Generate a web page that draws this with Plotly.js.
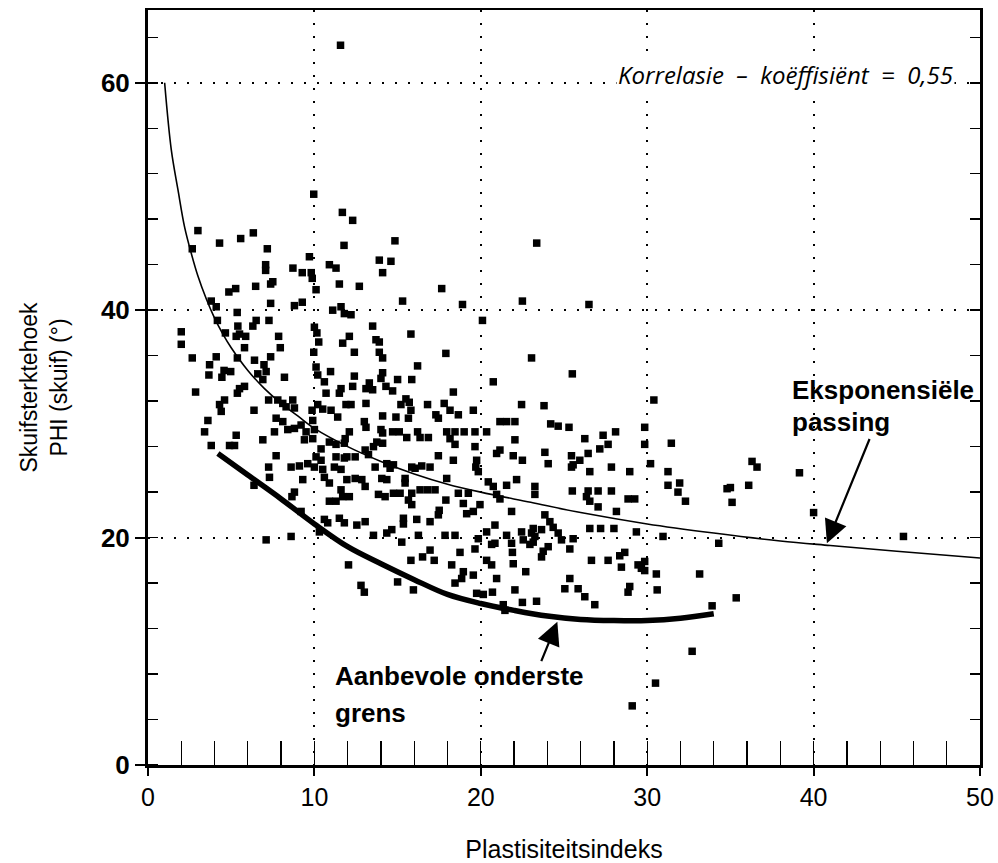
<!DOCTYPE html>
<html>
<head>
<meta charset="utf-8">
<script src="https://cdn.plot.ly/plotly-3.0.1.min.js"></script>
<style>html,body{margin:0;padding:0;background:#fff;}</style>
</head>
<body>
<div id="chart" style="width:998px;height:863px;"></div>
<script>
// Scatter points: Plastisiteitsindeks (x) vs skuifsterktehoek PHI (y)
const ptX = [
9.96,11.68,3.0,6.33,5.57,4.3,7.17,11.78,2.66,9.7,7.07,7.07,8.71,9.27,9.81,9.87,10.9,11.3,7.5,7.37,11.5,10.1,6.47,5.27,4.86,3.8,4.1,7.37,8.8,9.27,5.36,6.5,6.3,4.17,7.27,11.1,11.6,11.8,4.65,5.4,5.5,5.87,5.3,2.0,2.0,7.85,7.95,5.8,10.0,10.15,10.26,9.96,11.7,2.66,4.1,5.37,7.37,
3.7,3.66,4.57,4.97,4.44,6.4,6.97,7.1,6.6,6.9,8.2,10.1,10.2,10.97,2.86,5.5,5.8,5.37,10.6,10.7,11.6,11.5,4.6,4.3,4.4,6.37,7.25,7.8,8.1,8.7,8.3,8.8,9.86,10.2,10.5,11.0,11.4,3.6,3.4,7.7,7.6,8.1,8.4,8.8,9.2,9.5,9.9,10.0,5.3,3.8,4.9,5.2,6.9,9.4,9.9,10.4,10.9,11.3,11.8,7.7,10.1,10.4,11.3,11.8,7.25,7.3,8.6,9.1,9.6,10.0,10.5,10.6,10.9,11.2,11.6,9.3,6.37,8.8,8.65,11.6,11.7,11.3,10.9,9.2,10.6,10.8,11.5,11.8,7.1,8.6,10.3,
12.3,14.84,13.9,14.6,14.1,12.7,17.65,23.36,12.2,15.3,18.9,22.5,20.1,13.5,15.8,12.1,13.7,13.9,12.4,13.9,14.1,17.9,23.05,
16.2,12.4,14.1,14.0,15.0,15.85,13.3,13.1,13.5,12.3,14.3,14.7,20.75,18.35,15.5,15.7,11.9,12.2,13.1,15.2,16.8,17.8,22.45,15.8,18.15,18.65,19.55,17.3,17.45,14.1,14.9,15.65,13.0,13.1,21.15,21.55,22.05,14.0,14.1,14.7,15.1,16.2,16.35,17.95,18.45,19.0,19.65,20.35,12.1,11.85,15.55,16.85,18.15,18.45,22.05,13.75,14.1,13.55,19.65,20.95,21.15,11.95,12.45,13.05,13.25,17.45,18.35,19.75,19.7,19.85,21.95,22.5,13.65,14.35,14.55,14.75,15.85,16.05,16.45,16.95,11.95,12.45,12.85,13.05,14.05,14.35,15.45,15.45,17.95,20.45,20.75,21.55,22.15,23.25,12.1,13.85,14.25,14.75,15.15,15.85,16.35,16.8,17.25,15.65,15.85,18.65,19.25,17.9,20.95,21.15,23.25,21.85,18.95,19.15,19.55,19.95,17.5,17.45,16.95,16.15,15.35,15.35,14.65,14.35,13.55,13.05,12.55,16.25,17.85,18.45,20.35,20.85,21.55,22.45,23.05,23.15,21.85,22.55,15.25,19.85,20.85,
12.05,12.8,13.0,15.8,16.5,16.95,17.2,15.0,15.95,18.25,18.75,18.95,18.85,18.45,19.55,19.65,19.75,20.15,20.35,20.65,20.65,20.95,20.7,21.9,21.95,22.05,21.35,21.45,22.7,22.5,22.95,23.35,
26.5,25.5,23.8,30.4,24.2,24.65,25.3,26.25,27.35,28.1,29.85,
23.85,25.45,25.95,25.55,25.45,26.45,27.15,27.65,24.05,26.55,27.85,28.95,29.85,30.2,31.45,31.25,31.25,31.95,31.85,32.3,34.8,25.5,26.45,27.05,27.85,26.35,26.55,27.05,28.85,29.25,28.15,23.85,24.15,24.35,23.15,23.65,23.25,24.65,24.85,25.55,26.55,27.2,28.0,29.35,30.95,34.3,24.05,23.75,23.65,25.35,26.65,27.65,28.65,28.35,28.45,29.45,29.65,29.85,29.85,30.55,33.15,25.35,25.05,25.85,26.25,28.95,28.85,30.6,26.85,33.9,32.7,30.5,29.1,
36.3,36.6,39.15,35.0,35.1,36.1,40.0,35.35,45.4,
11.57
];
const ptY = [
50.2,48.6,47.0,46.8,46.3,45.9,45.4,45.7,45.4,44.7,44.0,43.5,43.7,43.3,43.3,42.8,44.0,43.7,42.5,42.3,42.3,41.8,42.1,41.9,41.6,40.8,40.3,40.6,40.4,40.7,39.8,39.1,38.6,39.1,39.1,40.0,40.3,39.7,38.0,38.6,37.9,37.7,37.7,38.1,37.0,37.7,36.7,36.7,38.5,38.0,37.2,36.3,37.1,35.8,35.9,35.8,35.9,
35.2,34.3,34.7,34.6,34.1,35.6,35.2,34.6,34.4,33.9,34.1,35.0,34.3,34.6,32.8,33.1,33.3,32.7,33.7,32.7,33.1,32.7,32.1,31.7,31.1,31.2,32.1,32.1,31.8,32.1,31.5,31.4,31.2,31.7,31.3,31.2,30.6,30.3,29.3,30.5,29.3,30.2,29.5,29.6,29.9,29.3,30.3,29.5,29.0,28.1,28.1,28.1,28.6,28.6,28.7,27.8,28.4,28.2,28.3,27.2,27.1,26.8,27.1,27.0,26.2,25.3,26.2,26.3,26.5,26.2,26.0,25.3,24.8,26.2,26.0,25.1,24.6,24.0,23.6,24.2,23.6,23.2,23.2,22.3,21.6,21.3,21.7,21.3,19.8,20.1,20.5,
47.9,46.1,44.4,44.3,43.3,42.1,41.9,45.9,39.6,40.8,40.5,40.8,39.1,38.6,37.9,37.7,37.4,37.2,36.3,36.3,35.8,36.2,35.8,
35.1,34.2,34.5,34.0,33.9,33.9,33.6,33.1,33.0,33.3,33.3,32.9,33.7,32.8,32.2,31.9,31.7,31.7,31.8,31.7,31.7,31.8,31.7,31.2,31.2,30.8,31.2,30.8,30.5,30.7,30.6,30.5,30.2,29.7,30.2,30.2,30.2,29.5,29.2,29.3,29.3,29.3,28.8,29.3,29.3,29.3,29.3,29.3,29.3,28.7,28.8,28.8,28.7,28.2,28.6,28.4,28.3,28.0,28.0,27.4,27.7,27.1,27.1,27.7,27.3,27.2,26.8,26.8,26.2,25.8,27.2,26.8,26.2,26.5,26.1,26.4,26.2,26.1,26.3,26.2,25.1,25.2,25.1,24.5,25.2,25.1,25.2,24.8,25.2,24.9,24.5,24.6,25.1,24.5,23.6,23.8,23.6,23.9,23.9,23.9,24.2,24.2,24.2,23.3,22.9,23.9,23.9,23.3,23.8,23.4,23.8,22.3,23.0,22.1,22.3,22.9,22.4,22.0,21.4,21.6,21.7,21.2,20.7,20.4,20.2,21.4,21.1,20.2,20.2,20.2,20.5,21.1,20.2,20.5,20.4,19.6,19.5,19.8,19.6,19.9,19.5,
17.6,15.8,15.2,18.0,18.3,18.9,18.0,16.1,15.4,17.6,18.7,17.0,16.4,16.0,16.7,19.0,15.1,15.0,18.0,17.6,19.4,16.4,15.2,18.7,17.7,15.4,14.1,13.6,17.0,14.3,19.4,14.4,
40.5,34.4,31.6,32.1,30.0,29.8,29.7,28.7,29.0,29.3,29.7,
27.5,27.2,26.8,26.4,26.2,27.4,27.8,28.2,26.5,25.8,26.2,25.8,28.2,26.5,28.3,25.8,24.6,24.8,24.0,23.2,24.3,24.1,24.1,24.1,24.1,23.6,23.2,22.7,23.4,23.4,22.3,22.0,21.4,20.9,20.8,20.7,20.1,20.4,19.8,19.9,20.8,20.8,20.8,20.5,20.1,19.5,19.2,18.8,18.3,19.0,18.0,18.0,18.7,18.4,17.4,17.6,17.3,17.9,17.1,16.8,16.8,16.4,15.5,15.5,14.8,15.7,15.2,15.4,14.1,14.0,10.0,7.2,5.2,
26.7,26.2,25.7,24.4,23.1,24.6,22.2,14.7,20.1,
63.3
];
// Exponential fit line
const fitX = [1,1.4,1.8,2.2,2.6,3,3.5,4,4.5,5,6,7,8,9,10,12,14,16,18,20,23,26,30,34,38,41,45,50];
const fitY = [60.0,54.1,50.6,47.3,45.0,43.0,41.0,39.3,37.9,36.7,34.7,33.1,31.8,30.7,29.6,28.0,26.7,25.6,24.7,24.0,23.1,22.2,21.2,20.4,19.7,19.3,18.8,18.2];
// Recommended lower bound (thick line)
const lowX = [4.2,6,8,10,12,14,16,18,20,22,24,26,28,30,32,34];
const lowY = [27.4,25.5,23.4,21.2,19.2,17.7,16.3,15.0,14.2,13.6,13.1,12.8,12.7,12.7,12.9,13.3];

const xTitle = 'Plastisiteitsindeks';
const yTitle = 'Skuifsterktehoek<br>PHI (skuif) (°)';

const traces = [
  {type:'scatter', mode:'markers', x:ptX, y:ptY, xaxis:'x', yaxis:'y',
   marker:{symbol:'square', size:7.5, color:'#000'}, hoverinfo:'x+y'},
  {type:'scatter', mode:'lines', x:fitX, y:fitY, xaxis:'x', yaxis:'y2',
   line:{color:'#000', width:1.6, shape:'spline'}},
  {type:'scatter', mode:'lines', x:lowX, y:lowY, xaxis:'x2', yaxis:'y',
   line:{color:'#000', width:5.5, shape:'spline'}}
];

const AX = 'Arial, Liberation Sans, sans-serif';
const dots = '2px,11px';
const boldFont = {family:AX, size:26, weight:'bold', color:'#000'};
const layout = {
  width:998, height:863,
  margin:{l:148, r:18, t:10, b:98},
  paper_bgcolor:'#fff', plot_bgcolor:'#fff',
  showlegend:false,
  font:{family:AX, color:'#000'},
  xaxis:{range:[0,50], tick0:0, dtick:10, ticks:'outside', ticklen:8, tickwidth:2, tickcolor:'#000',
    showline:true, linewidth:2.5, linecolor:'#000', mirror:true,
    showgrid:true, gridcolor:'#000', gridwidth:2, griddash:dots, zeroline:false,
    tickfont:{family:AX, size:25, color:'#000'},
    title:{text:xTitle, font:{family:AX, size:25, color:'#000'}, standoff:32}},
  xaxis2:{overlaying:'x', anchor:'y', side:'bottom', range:[0,50], tick0:0, dtick:2,
    ticks:'inside', ticklen:24, tickwidth:1.3, tickcolor:'#000',
    showticklabels:false, showgrid:false, zeroline:false, showline:false},
  yaxis:{range:[0,66.4], tick0:0, dtick:20, ticks:'outside', ticklen:10, tickwidth:2, tickcolor:'#000',
    showline:true, linewidth:3, linecolor:'#000', mirror:true,
    showgrid:true, gridcolor:'#000', gridwidth:2, griddash:dots, zeroline:false,
    minor:{ticks:'inside', dtick:4, tick0:0, ticklen:10, tickwidth:1.5, tickcolor:'#000', showgrid:false},
    tickfont:{family:AX, size:26, color:'#000', weight:'bold'},
    title:{text:yTitle, font:{family:AX, size:23, color:'#000'}, standoff:27}},
  yaxis2:{overlaying:'y', anchor:'x', side:'right', range:[0,66.4], tick0:0, dtick:4,
    ticks:'inside', ticklen:10, tickwidth:1.5, tickcolor:'#000',
    showticklabels:false, showgrid:false, zeroline:false, showline:false},
  annotations:[
    {x:48.5, y:60.7, xref:'x', yref:'y', xanchor:'right', yanchor:'middle', showarrow:false,
     text:'Korrelasie  –  koëffisiënt  =  0,55', bgcolor:'#fff', borderpad:1,
     font:{family:'Open Sans, Arial, sans-serif', size:24, style:'italic', color:'#000'}},
    {x:38.6, y:33.0, xref:'x', yref:'y', xanchor:'left', yanchor:'middle', showarrow:false,
     text:'Eksponensiële', font:boldFont},
    {x:38.6, y:30.2, xref:'x', yref:'y', xanchor:'left', yanchor:'middle', showarrow:false,
     text:'passing', font:boldFont},
    {x:40.8, y:19.5, xref:'x', yref:'y', ax:43.4, ay:28.8, axref:'x', ayref:'y',
     text:'', showarrow:true, arrowhead:2, arrowsize:2.1, arrowwidth:2.2, arrowcolor:'#000'},
    {x:11.1, y:7.8, xref:'x', yref:'y', xanchor:'left', yanchor:'middle', showarrow:false,
     text:'Aanbevole onderste', font:boldFont},
    {x:11.1, y:4.6, xref:'x', yref:'y', xanchor:'left', yanchor:'middle', showarrow:false,
     text:'grens', font:boldFont},
    {x:24.6, y:12.6, xref:'x', yref:'y', ax:23.6, ay:9.0, axref:'x', ayref:'y',
     text:'', showarrow:true, arrowhead:2, arrowsize:2.1, arrowwidth:2.2, arrowcolor:'#000'}
  ]
};

Plotly.newPlot('chart', traces, layout, {displayModeBar:false, staticPlot:true});
</script>
</body>
</html>
